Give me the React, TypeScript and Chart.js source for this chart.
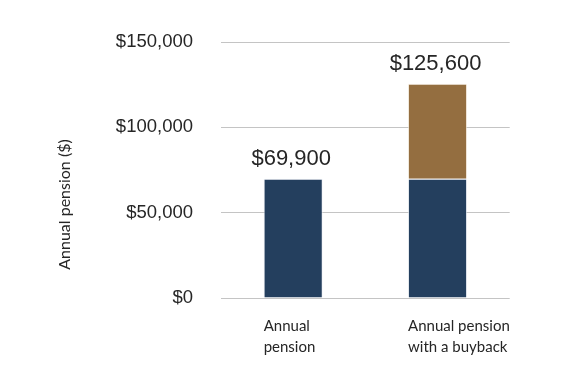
import { useEffect, useRef } from "react";
import { Chart, registerables } from "chart.js";

Chart.register(...registerables);

const categories: string[][] = [["Annual", "pension"], ["Annual pension", "with a buyback"]];
const basePension = [69900, 69900];
const buybackAddition = [0, 55700];
const totalLabels = ["$69,900", "$125,600"];
const yMin = 0;
const yMax = 150000;
const yStep = 50000;
const yAxisTitle = "Annual pension ($)";

const NAVY = "#243F5E";
const BROWN = "#946E40";
const TEXT = "#262626";

export default function App() {
  const ref = useRef<HTMLCanvasElement | null>(null);

  useEffect(() => {
    if (!ref.current) return;
    const valueLabels = {
      id: "valueLabels",
      afterDatasetsDraw(chart: any) {
        const { ctx, scales } = chart;
        ctx.save();
        ctx.font = "22px 'Liberation Sans', Arial, sans-serif";
        ctx.fillStyle = TEXT;
        ctx.textAlign = "center";
        ctx.textBaseline = "alphabetic";
        totalLabels.forEach((lab, i) => {
          const total = basePension[i] + buybackAddition[i];
          const x = scales.x.getPixelForValue(i);
          const y = scales.y.getPixelForValue(total);
          ctx.fillText(lab, x - 2, y - 14);
        });
        ctx.restore();
      },
    };
    const yTitle = {
      id: "yTitle",
      afterDraw(chart: any) {
        const { ctx, chartArea } = chart;
        ctx.save();
        ctx.font = "16px Lato, 'Open Sans', sans-serif";
        ctx.fillStyle = TEXT;
        ctx.textAlign = "center";
        ctx.textBaseline = "middle";
        ctx.translate(65, (chartArea.top + chart.height) / 2 - 3);
        ctx.rotate(-Math.PI / 2);
        ctx.fillText(yAxisTitle, 0, 0);
        ctx.restore();
      },
    };
    const chart = new Chart(ref.current, {
      type: "bar",
      data: {
        labels: categories,
        datasets: [
          {
            label: "Annual pension",
            data: basePension,
            backgroundColor: NAVY,
            borderColor: "rgba(235,240,246,0.7)",
            borderWidth: 1,
            barPercentage: 0.41,
            categoryPercentage: 1,
          },
          {
            label: "Buyback",
            data: buybackAddition,
            backgroundColor: BROWN,
            borderColor: "rgba(245,235,220,0.7)",
            borderWidth: 1,
            barPercentage: 0.41,
            categoryPercentage: 1,
          },
        ],
      },
      options: {
        responsive: false,
        animation: false,
        devicePixelRatio: 1,
        layout: { padding: { left: 0, top: 42, right: 63, bottom: 0 } },
        plugins: {
          legend: { display: false },
          tooltip: { enabled: false },
          title: { display: false },
        },
        scales: {
          x: {
            stacked: true,
            grid: { display: false, drawTicks: false },
            border: { display: false },
            ticks: {
              color: TEXT,
              font: { family: "Lato, 'Open Sans', sans-serif", size: 15, lineHeight: 1.4 },
              align: "start",
              labelOffset: -29.5,
              padding: 18,
              maxRotation: 0,
              autoSkip: false,
            },
            afterFit(scale: any) {
              scale.height = 75;
            },
          },
          y: {
            stacked: true,
            min: yMin,
            max: yMax,
            grid: { color: "#C4C4C4", lineWidth: 1, drawTicks: false },
            border: { display: false },
            ticks: {
              stepSize: yStep,
              color: TEXT,
              padding: 28,
              font: { family: "'Liberation Sans', Arial, sans-serif", size: 18.5 },
              callback: (v: any) => "$" + Number(v).toLocaleString("en-US"),
            },
            afterFit(scale: any) {
              scale.width = 221;
            },
          },
        },
      },
      plugins: [valueLabels, yTitle],
    });
    return () => chart.destroy();
  }, []);

  return (
    <div style={{ position: "absolute", left: 0, top: 0, width: 573, height: 373, background: "#fff" }}>
      <canvas ref={ref} width={573} height={373} style={{ display: "block" }} />
    </div>
  );
}
